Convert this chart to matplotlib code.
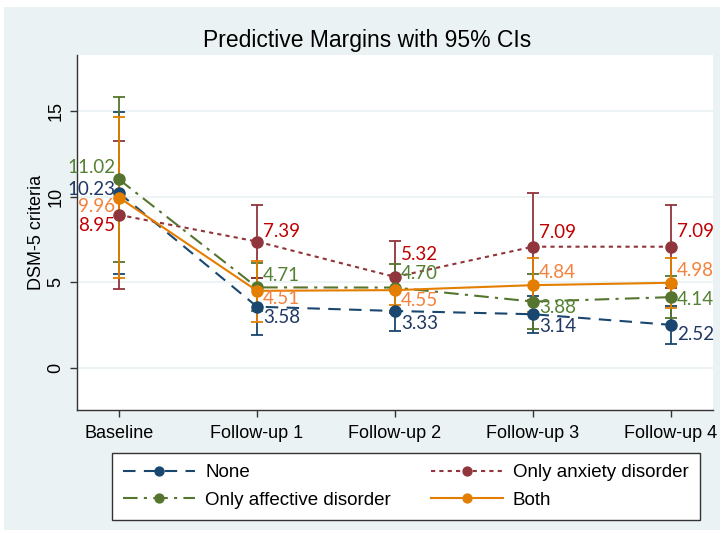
import numpy as np
import matplotlib.pyplot as plt
from matplotlib.patches import Rectangle

# data
waves = ["Baseline", "Follow-up 1", "Follow-up 2", "Follow-up 3", "Follow-up 4"]
groups = ["None", "Only anxiety disorder", "Only affective disorder", "Both"]

none_mean = [10.23, 3.58, 3.33, 3.14, 2.52]
none_lo = [5.50, 1.93, 2.16, 2.05, 1.40]
none_hi = [14.97, 5.23, 4.50, 4.23, 3.64]

anx_mean = [8.95, 7.39, 5.32, 7.09, 7.09]
anx_lo = [4.62, 5.25, 3.21, 3.95, 4.65]
anx_hi = [13.27, 9.53, 7.43, 10.23, 9.53]

aff_mean = [11.02, 4.71, 4.70, 3.88, 4.14]
aff_lo = [6.22, 3.31, 3.32, 2.26, 2.90]
aff_hi = [15.82, 6.11, 6.08, 5.50, 5.40]

both_mean = [9.96, 4.51, 4.55, 4.84, 4.98]
both_lo = [5.26, 2.70, 3.68, 3.25, 3.53]
both_hi = [14.66, 6.26, 5.42, 6.43, 6.43]

# styles
line_colors = ["#1a476f", "#90353b", "#55752f", "#e37e00"]
label_colors = ["#1f3864", "#c00000", "#548235", "#f4813c"]
dashes = [(6, 4), (2, 2), (7, 3, 1.5, 3), None]

# label vertical offsets in pixels per group, per wave
label_dy = [
    [3, -11, -13, -12, -10],
    [-11, 10, 22, 14, 15],
    [12, 12, 14, -6, -2],
    [-9, -8, -10, 13, 12],
]

means = [none_mean, anx_mean, aff_mean, both_mean]
los = [none_lo, anx_lo, aff_lo, both_lo]
his = [none_hi, anx_hi, aff_hi, both_hi]

plt.rcParams['font.family'] = ['Liberation Sans', 'DejaVu Sans']

fig = plt.figure(figsize=(7.26, 5.33), dpi=100)
fig.patch.set_facecolor("white")
bg = Rectangle((4 / 726, 3 / 533), 716 / 726, 523 / 533,
               transform=fig.transFigure, facecolor="#eaf2f3",
               edgecolor="none", zorder=-5)
fig.patches.append(bg)

ax = fig.add_axes([77 / 726, 123 / 533, 636 / 726, 355 / 533])
ax.set_facecolor("white")

x = np.arange(1, len(waves) + 1)
handles = []
for i in range(len(groups)):
    m = np.array(means[i])
    err = [m - np.array(los[i]), np.array(his[i]) - m]
    ax.errorbar(x, m, yerr=err, fmt="none", ecolor=line_colors[i],
                elinewidth=1.3, capsize=4, capthick=1.3, zorder=2 + i * 0.1)

for i in range(len(groups)):
    (ln,) = ax.plot(x, means[i], color=line_colors[i], lw=1.5,
                    marker="o", markersize=8, zorder=3 + i * 0.1,
                    label=groups[i])
    if dashes[i] is not None:
        ln.set_dashes(dashes[i])
    handles.append(ln)

for i in range(len(groups)):
    for j in range(len(waves)):
        if j == 0:
            dx, ha = -4, "right"
        else:
            dx, ha = 6, "left"
        ax.annotate(f"{means[i][j]:.2f}", (x[j], means[i][j]),
                    xytext=(dx, label_dy[i][j]), textcoords="offset pixels",
                    ha=ha, va="center", color=label_colors[i],
                    fontsize=13.5, family=["Lato", "DejaVu Sans"], zorder=5)

ax.set_xlim(0.695, 5.305)
ax.set_ylim(-2.46, 18.3)
ax.set_xticks(x)
ax.set_xticklabels(waves, fontsize=13)
ax.set_yticks([0, 5, 10, 15])
ax.set_yticklabels(["0", "5", "10", "15"], fontsize=13, rotation=90, va="center")
ax.tick_params(axis="both", direction="out", length=5, color="#333333", width=1)
ax.tick_params(axis="x", pad=6)
ax.tick_params(axis="y", pad=4)
for s in ["top", "right"]:
    ax.spines[s].set_visible(False)
for s in ["left", "bottom"]:
    ax.spines[s].set_color("#333333")
    ax.spines[s].set_linewidth(1)
ax.yaxis.grid(True, color="#eaf2f3", lw=1.2)
ax.set_axisbelow(True)
ax.set_ylabel("DSM-5 criteria", fontsize=13, labelpad=1.5)

fig.text(0.505, 0.924, "Predictive Margins with 95% CIs", ha="center",
         va="center", fontsize=16.5)

# legend filled row-wise: None, Only anxiety / Only affective, Both
order = [0, 2, 1, 3]
leg = fig.legend(handles=[handles[k] for k in order], loc="lower left", ncol=2,
                 bbox_to_anchor=(112 / 726, 13 / 533, 588 / 726, 68 / 533),
                 mode="expand", borderaxespad=0, fontsize=13.5, frameon=True,
                 fancybox=False, edgecolor="#333333", facecolor="white",
                 framealpha=1, handlelength=3.85, handletextpad=0.53,
                 markerscale=0.8, borderpad=0.6, labelspacing=0.55,
                 columnspacing=2)
leg.get_frame().set_linewidth(1)

fig.savefig("out.png", dpi=100, facecolor=fig.get_facecolor())
